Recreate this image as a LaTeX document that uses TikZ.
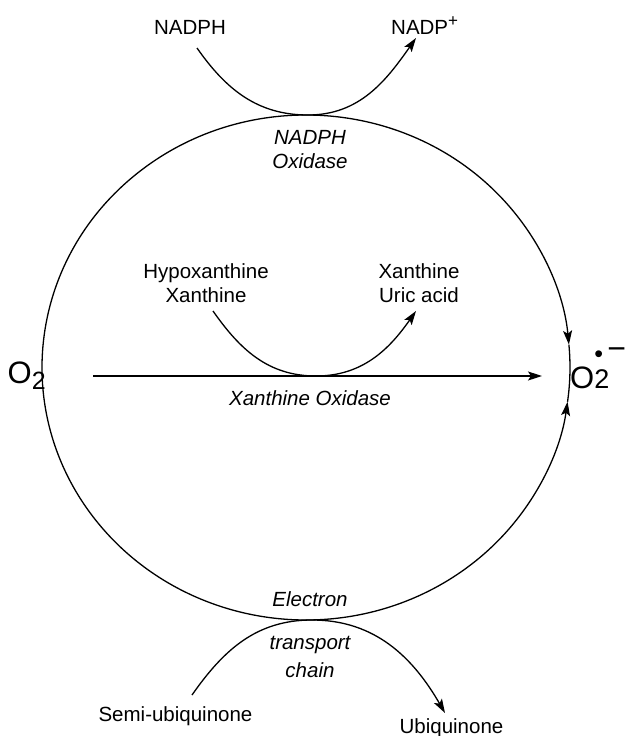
\documentclass[tikz,border=0pt]{standalone}
\usepackage{fontspec}
\setmainfont{Liberation Sans}
\usetikzlibrary{arrows.meta}
\begin{document}
\begin{tikzpicture}[x=1pt,y=1pt,
  lbl/.style={font=\fontsize{20.5}{24}\selectfont, inner sep=0pt, align=center},
  ilbl/.style={font=\fontsize{20.5}{24}\selectfont\itshape, inner sep=0pt, align=center},
  big/.style={font=\fontsize{31}{31}\selectfont, inner sep=0pt},
  line/.style={line width=1.3pt},
  arr/.style={line width=1.3pt, -{Stealth[length=14pt,width=9pt,inset=3pt]}},
  ell/.style={x radius=264, y radius=252.5}]
\useasboundingbox (0,0) rectangle (626,-736);
% main cycle
\coordinate (c) at (306,-367.5);
\draw[line] (c) ++(40:264 and 252.5) arc[ell, start angle=40, end angle=320];
\draw[line] (c) ++(5.2:264 and 252.5) arc[ell, start angle=5.2, end angle=-7.8];
\draw[arr] (c) ++(40:264 and 252.5) arc[ell, start angle=40, end angle=5.2];
\draw[arr] (c) ++(-40:264 and 252.5) arc[ell, start angle=-40, end angle=-7.8];
% labels
\node[lbl, anchor=base] (nadph) at (190,-34) {NADPH};
\node[lbl, anchor=base west] (nadpp) at (391,-34) {NADP\raisebox{7pt}{\fontsize{17}{17}\selectfont +}};
\node[ilbl, anchor=north] (nox) at (310,-130) {NADPH\\Oxidase};
\node[lbl, anchor=north] (hyp) at (206,-263) {Hypoxanthine\\Xanthine};
\node[lbl, anchor=north] (uric) at (419,-263) {Xanthine\\Uric acid};
\node[ilbl, anchor=base] (xo) at (310,-405) {Xanthine Oxidase};
\node[ilbl, anchor=base] (elec) at (310,-606) {Electron};
\node[ilbl, anchor=base, font=\fontsize{20.5}{28}\selectfont\itshape] (tc) at (310,-677) {transport\\chain};
\node[lbl, anchor=base] (semi) at (175.5,-721) {Semi-ubiquinone};
\node[lbl, anchor=base] (ubi) at (451.5,-733) {Ubiquinone};
\node[big, anchor=base west] (o2l) at (7.5,-383) {O\raisebox{-6pt}{\fontsize{25}{25}\selectfont 2}};
\node[big, anchor=base west] (o2r) at (570,-388) {O\rlap{\raisebox{26pt}{\fontsize{25}{25}\selectfont\textbullet}}{\fontsize{27}{27}\selectfont 2}\kern-2pt\raisebox{29pt}{\fontsize{32}{32}\selectfont −}};
% arc endpoints
\coordinate (a1) at (197,-48);
\coordinate (t1) at (308,-115);
\coordinate (a2) at (416,-38);
\coordinate (b1) at (213,-311);
\coordinate (t2) at (316,-376);
\coordinate (b2) at (416,-311);
\coordinate (d1) at (192,-695);
\coordinate (t3) at (312,-620);
\coordinate (d2) at (445,-713);
\coordinate (h1) at (93,-376);
\coordinate (h2) at (542,-376);
% reactions
\draw[arr] (a1) to[out=-55,in=180] (t1) to[out=0,in=-125] (a2);
\draw[arr] (b1) to[out=-55,in=180] (t2) to[out=0,in=-125] (b2);
\draw[arr] (d1) to[out=55,in=180] (t3) to[out=0,in=120] (d2);
\draw[arr] (h1) -- (h2);
\end{tikzpicture}
\end{document}
